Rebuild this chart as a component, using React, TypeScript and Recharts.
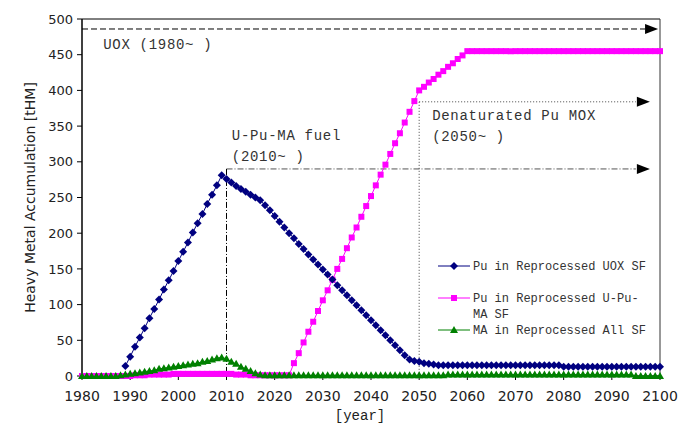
import { LineChart, Line, XAxis, YAxis, Legend, ReferenceLine, ReferenceDot } from "recharts";

// years 1980..2100
const years = [
  1980, 1981, 1982, 1983, 1984, 1985, 1986, 1987, 1988, 1989,
  1990, 1991, 1992, 1993, 1994, 1995, 1996, 1997, 1998, 1999,
  2000, 2001, 2002, 2003, 2004, 2005, 2006, 2007, 2008, 2009,
  2010, 2011, 2012, 2013, 2014, 2015, 2016, 2017, 2018, 2019,
  2020, 2021, 2022, 2023, 2024, 2025, 2026, 2027, 2028, 2029,
  2030, 2031, 2032, 2033, 2034, 2035, 2036, 2037, 2038, 2039,
  2040, 2041, 2042, 2043, 2044, 2045, 2046, 2047, 2048, 2049,
  2050, 2051, 2052, 2053, 2054, 2055, 2056, 2057, 2058, 2059,
  2060, 2061, 2062, 2063, 2064, 2065, 2066, 2067, 2068, 2069,
  2070, 2071, 2072, 2073, 2074, 2075, 2076, 2077, 2078, 2079,
  2080, 2081, 2082, 2083, 2084, 2085, 2086, 2087, 2088, 2089,
  2090, 2091, 2092, 2093, 2094, 2095, 2096, 2097, 2098, 2099,
  2100,
];

// Pu in Reprocessed UOX SF
const puUox = [
  null, null, null, null, null, null, null, null, null, 14,
  27, 41, 54, 67, 81, 94, 107, 121, 134, 147,
  161, 174, 187, 201, 214, 227, 241, 254, 267, 281,
  276, 271, 266, 262, 258, 254, 250, 246, 239, 232,
  224, 216, 208, 200, 193, 185, 178, 170, 163, 156,
  149, 142, 135, 127, 120, 113, 106, 99, 92, 85,
  78, 71, 64, 57, 50, 43, 36, 29, 23, 21,
  20, 18, 17, 16, 15, 15, 15, 15, 15, 15,
  15, 15, 15, 15, 15, 15, 15, 15, 15, 15,
  15, 15, 15, 15, 15, 15, 15, 15, 15, 15,
  13, 13, 13, 13, 13, 13, 13, 13, 13, 13,
  13, 13, 13, 13, 13, 13, 13, 13, 13, 13,
  13,
];

// Pu in Reprocessed U-Pu-MA SF
const puUpuma = [
  0, 0, 0, 0, 0, 0, 0, 0, 0, 0,
  0, 1, 1, 1, 2, 2, 2, 2, 2, 3,
  3, 3, 3, 3, 3, 3, 3, 3, 3, 3,
  3, 3, 2, 2, 2, 1, 1, 1, 1, 1,
  1, 1, 1, 1, 18, 32, 47, 62, 76, 91,
  106, 120, 135, 150, 164, 179, 194, 208, 223, 238,
  252, 267, 282, 296, 311, 326, 340, 355, 370, 385,
  400, 405, 411, 416, 422, 427, 433, 438, 444, 449,
  455, 455, 455, 455, 455, 455, 455, 455, 455, 455,
  455, 455, 455, 455, 455, 455, 455, 455, 455, 455,
  455, 455, 455, 455, 455, 455, 455, 455, 455, 455,
  455, 455, 455, 455, 455, 455, 455, 455, 455, 455,
  455,
];

// MA in Reprocessed All SF
const ma = [
  0, 0, 0, 0, 0, 0, 0, 0, 1, 2,
  3, 4, 5, 6, 7, 8, 10, 11, 12, 13,
  14, 15, 16, 17, 18, 20, 21, 23, 25, 26,
  24, 20, 17, 13, 10, 7, 4, 2, 1, 1,
  1, 1, 1, 1, 1, 1, 1, 1, 1, 1,
  1, 1, 1, 1, 1, 1, 1, 1, 1, 1,
  1, 1, 1, 1, 1, 1, 1, 1, 1, 1,
  1, 1, 1, 1, 1, 1, 2, 2, 2, 2,
  2, 2, 2, 2, 2, 2, 2, 2, 2, 2,
  2, 2, 2, 2, 2, 2, 2, 2, 2, 2,
  2, 2, 2, 2, 2, 2, 2, 2, 2, 2,
  2, 2, 2, 2, 2, 0, 0, 0, 0, 0,
  0,
];

const xTicks = [1980, 1990, 2000, 2010, 2020, 2030, 2040, 2050, 2060, 2070, 2080, 2090, 2100];
const yTicks = [0, 50, 100, 150, 200, 250, 300, 350, 400, 450, 500];

const legendLabels = [
  ["Pu in Reprocessed UOX SF"],
  ["Pu in Reprocessed U-Pu-", "MA SF"],
  ["MA in Reprocessed All SF"],
];
const colors = ["#000080", "#ff00ff", "#008000"];

// annotation levels (tHM)
const uoxLevel = 486;
const upumaLevel = 290;
const moxLevel = 384;

const data = years.map((year, i) => ({ year, puUox: puUox[i], puUpuma: puUpuma[i], ma: ma[i] }));

const mono = "'Liberation Mono', 'DejaVu Sans Mono', monospace";
const sans = "'DejaVu Sans', Verdana, sans-serif";

function markerPath(kind: string, cx: number, cy: number) {
  if (kind === "diamond") return `M${cx},${cy - 4}L${cx + 4},${cy}L${cx},${cy + 4}L${cx - 4},${cy}Z`;
  if (kind === "square") return `M${cx - 3},${cy - 3}h6v6h-6Z`;
  return `M${cx},${cy - 4}L${cx + 4},${cy + 3}L${cx - 4},${cy + 3}Z`;
}

const makeDot = (kind: string, color: string) => (p: any) => {
  const { cx, cy, index, value } = p;
  if (value == null || cx == null || cy == null || isNaN(cy)) return <g key={index} />;
  return <path key={index} d={markerPath(kind, cx, cy)} fill={color} />;
};

const Arrow = (p: any) => {
  const { cx, cy } = p;
  return <path d={`M${cx},${cy}L${cx - 13},${cy - 5}L${cx - 13},${cy + 5}Z`} fill="#000" />;
};

const makeText = (lines: string[], lh: number) => (p: any) => (
  <text x={p.cx} y={p.cy} fontFamily={mono} fontSize={14} letterSpacing={0.7} fill="#333">
    {lines.map((l, i) => (
      <tspan key={i} x={p.cx} dy={i === 0 ? 0 : lh}>
        {l}
      </tspan>
    ))}
  </text>
);

const kinds = ["diamond", "square", "triangle"];

const renderLegend = () => (
  <svg width={232} height={90}>
    {legendLabels.map((lines, i) => {
      const y = [10, 42, 74][i];
      return (
        <g key={i}>
          <line x1={2} x2={34} y1={y} y2={y} stroke={colors[i]} strokeWidth={1} />
          <path d={markerPath(kinds[i], 18, y)} fill={colors[i]} />
          {lines.map((l, j) => (
            <text key={j} x={37} y={y + 4 + j * 16} fontFamily={mono} fontSize={12} fill="#333">
              {l}
            </text>
          ))}
        </g>
      );
    })}
  </svg>
);

const YTitle = (p: any) => {
  const vb = p.viewBox;
  const x = 30;
  const y = vb.y + vb.height / 2;
  return (
    <text x={x} y={y} transform={`rotate(-90 ${x} ${y})`} textAnchor="middle" dominantBaseline="central"
      fontFamily={sans} fontSize={14} fill="#222">
      Heavy Metal Accumulation [tHM]
    </text>
  );
};

const XTitle = (p: any) => {
  const vb = p.viewBox;
  return (
    <text x={vb.x + vb.width / 2 - 11} y={420} textAnchor="middle" fontFamily={mono} fontSize={14} fill="#222">
      [year]
    </text>
  );
};

export default function App() {
  return (
    <div style={{ position: "absolute", left: 0, top: 0, background: "#fff" }}>
      <LineChart width={679} height={423} data={data} margin={{ top: 19, right: 19, bottom: 0, left: 0 }}>
        <XAxis
          dataKey="year"
          type="number"
          domain={[1980, 2100]}
          ticks={xTicks}
          interval={0}
          height={47}
          tickSize={4}
          tickMargin={11}
          axisLine={{ stroke: "#000" }}
          tickLine={{ stroke: "#000" }}
          tick={{ fontFamily: sans, fontSize: 14, fill: "#222" }}
          label={<XTitle />}
        />
        <YAxis
          domain={[0, 500]}
          ticks={yTicks}
          interval={0}
          width={82}
          tickSize={5}
          tickMargin={4}
          axisLine={{ stroke: "#000", strokeWidth: 1.5 }}
          tickLine={{ stroke: "#000" }}
          tick={{ fontFamily: sans, fontSize: 13, fill: "#222" }}
          label={<YTitle />}
        />
        <ReferenceLine y={500} stroke="#000" strokeWidth={1} />
        <ReferenceLine x={2100} stroke="#333" strokeWidth={1} />

        {/* UOX arrow */}
        <ReferenceLine segment={[{ x: 1980, y: uoxLevel }, { x: 2097, y: uoxLevel }]} stroke="#000" strokeDasharray="6 3" ifOverflow="visible" />
        <ReferenceDot x={2099.6} y={uoxLevel} r={0} shape={<Arrow />} ifOverflow="visible" />
        <ReferenceDot x={1984.4} y={458} r={0} shape={makeText(["UOX (1980~ )"], 21)} />

        {/* U-Pu-MA fuel arrow */}
        <ReferenceLine segment={[{ x: 2010, y: upumaLevel }, { x: 2095, y: upumaLevel }]} stroke="#555" strokeDasharray="6 2 1 2" />
        <ReferenceLine segment={[{ x: 2010, y: upumaLevel }, { x: 2010, y: 0 }]} stroke="#000" strokeDasharray="6 2 1 2" />
        <ReferenceDot x={2097.9} y={upumaLevel} r={0} shape={<Arrow />} />
        <ReferenceDot x={2011.1} y={330} r={0} shape={makeText(["U-Pu-MA fuel", "(2010~ )"], 21)} />

        {/* Denaturated Pu MOX arrow */}
        <ReferenceLine segment={[{ x: 2050, y: moxLevel }, { x: 2095, y: moxLevel }]} stroke="#444" strokeDasharray="1 2" />
        <ReferenceLine segment={[{ x: 2050, y: moxLevel }, { x: 2050, y: 0 }]} stroke="#444" strokeDasharray="1 2" />
        <ReferenceDot x={2097.9} y={moxLevel} r={0} shape={<Arrow />} />
        <ReferenceDot x={2052.7} y={359} r={0} shape={makeText(["Denaturated Pu MOX", "(2050~ )"], 21)} />

        <Line dataKey="puUpuma" stroke={colors[1]} strokeWidth={1} dot={makeDot("square", colors[1])} activeDot={false} isAnimationActive={false} />
        <Line dataKey="ma" stroke={colors[2]} strokeWidth={1} dot={makeDot("triangle", colors[2])} activeDot={false} isAnimationActive={false} />
        <Line dataKey="puUox" stroke={colors[0]} strokeWidth={1} dot={makeDot("diamond", colors[0])} activeDot={false} isAnimationActive={false} />

        <Legend
          layout="horizontal"
          verticalAlign="middle"
          align="center"
          content={renderLegend}
          wrapperStyle={{ position: "absolute", left: 436, top: 256, width: 232, height: 90 }}
        />
      </LineChart>
    </div>
  );
}
